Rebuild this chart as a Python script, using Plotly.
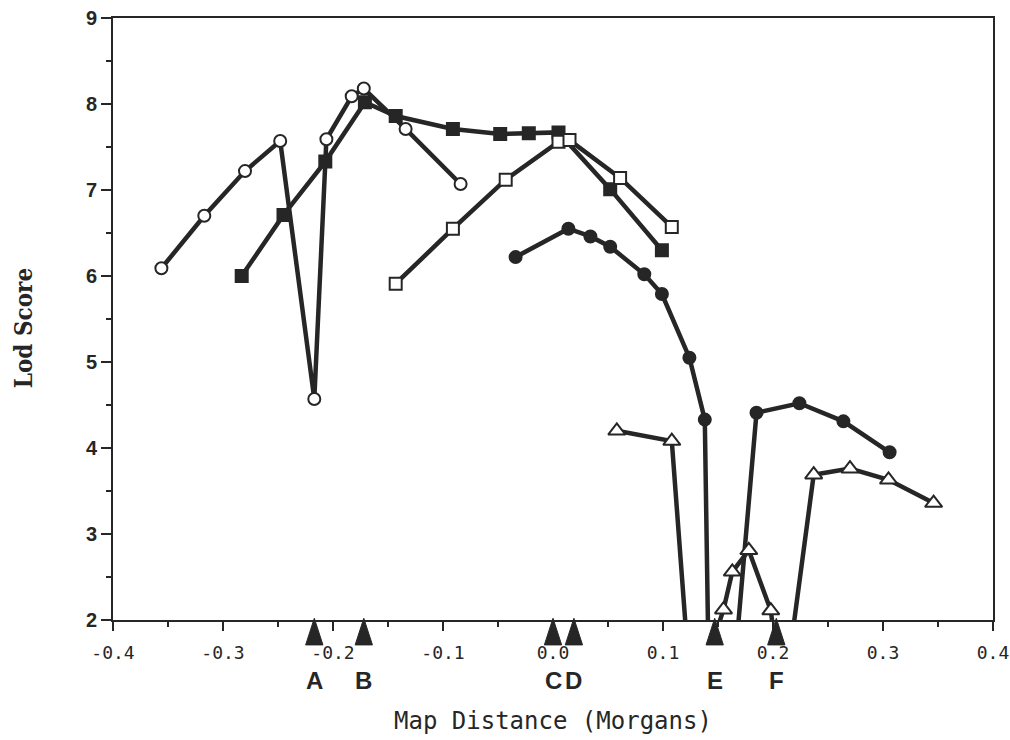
import plotly.graph_objects as go

# Open circles
oc_x = [-0.356, -0.317, -0.280, -0.248, -0.217, -0.206, -0.183, -0.172, -0.134, -0.084]
oc_y = [6.09, 6.70, 7.22, 7.57, 4.57, 7.59, 8.09, 8.18, 7.71, 7.07]

# Filled squares
fs_x = [-0.283, -0.245, -0.207, -0.171, -0.143, -0.091, -0.048, -0.022, 0.005, 0.052, 0.099]
fs_y = [6.00, 6.71, 7.33, 8.02, 7.86, 7.71, 7.65, 7.66, 7.67, 7.01, 6.30]

# Open squares
os_x = [-0.143, -0.091, -0.043, 0.005, 0.015, 0.061, 0.108]
os_y = [5.91, 6.55, 7.12, 7.56, 7.58, 7.14, 6.57]

# Filled circles (values below 2 fall outside the plotted range)
fc_x = [-0.034, 0.014, 0.034, 0.052, 0.083, 0.099, 0.124, 0.138, 0.142, 0.162, 0.185, 0.224, 0.264, 0.306]
fc_y = [6.22, 6.55, 6.46, 6.34, 6.02, 5.79, 5.05, 4.33, 1.0, 1.0, 4.41, 4.52, 4.31, 3.95]

# Open triangles (values below 2 fall outside the plotted range)
ot_x = [0.058, 0.108, 0.126, 0.155, 0.163, 0.178, 0.198, 0.209, 0.237, 0.270, 0.305, 0.346]
ot_y = [4.20, 4.08, 1.0, 2.12, 2.56, 2.81, 2.11, 1.0, 3.69, 3.76, 3.63, 3.36]

# Marker positions on the map
loc_labels = ["A", "B", "C", "D", "E", "F"]
loc_x = [-0.217, -0.172, 0.0, 0.019, 0.147, 0.203]

x_ticks = [-0.4, -0.3, -0.2, -0.1, 0.0, 0.1, 0.2, 0.3, 0.4]
x_tick_text = ["-0.4", "-0.3", "-0.2", "-0.1", "0.0", "0.1", "0.2", "0.3", "0.4"]
y_ticks = [2, 3, 4, 5, 6, 7, 8, 9]

INK = "#262626"
LW = 4.5
MONO = "DejaVu Sans Mono, Liberation Mono, monospace"

fig = go.Figure()

def add(xs, ys, symbol, size, fill):
    fig.add_trace(go.Scatter(
        x=xs, y=ys, mode="lines+markers",
        line=dict(color=INK, width=LW),
        marker=dict(symbol=symbol, size=size, color=fill,
                    line=dict(color=INK, width=2)),
        showlegend=False, cliponaxis=True, hoverinfo="skip",
    ))

add(oc_x, oc_y, "circle", 12, "white")
add(fs_x, fs_y, "square", 12, INK)
add(os_x, os_y, "square", 12, "white")
add(fc_x, fc_y, "circle", 12, INK)
add(ot_x, ot_y, "triangle-up", 15, "white")

# arrowheads on the x axis
fig.add_trace(go.Scatter(
    x=loc_x, y=[2.02] * len(loc_x), mode="markers",
    marker=dict(symbol="arrow", size=28, color=INK, angle=0,
                line=dict(color=INK, width=1)),
    showlegend=False, cliponaxis=False, hoverinfo="skip",
))

annotations = []
for lab, xv in zip(loc_labels, loc_x):
    annotations.append(dict(
        x=xv, y=-0.1, xref="x", yref="paper", text="<b>" + lab + "</b>", showarrow=False,
        font=dict(family="Liberation Sans, Arial", size=24, color=INK),
        xanchor="center", yanchor="middle",
    ))
annotations.append(dict(
    x=0.5, y=-0.168, xref="paper", yref="paper", text="Map Distance (Morgans)",
    showarrow=False, xanchor="center", yanchor="middle",
    font=dict(family=MONO, size=24, color=INK),
))
annotations.append(dict(
    x=-0.1015, y=0.484, xref="paper", yref="paper", text="<b>Lod Score</b>",
    showarrow=False, textangle=-90, xanchor="center", yanchor="middle",
    font=dict(family="DejaVu Serif Condensed, Liberation Serif", size=24, color=INK),
))

fig.update_layout(
    width=1010, height=740,
    margin=dict(l=113, r=17, t=18, b=120),
    paper_bgcolor="white", plot_bgcolor="white",
    annotations=annotations,
    xaxis=dict(
        range=[-0.4, 0.4], tickvals=x_ticks, ticktext=x_tick_text,
        showgrid=False, zeroline=False, showline=True, linecolor=INK, linewidth=2,
        mirror=True, ticks="outside", ticklen=9, tickwidth=2, tickcolor=INK,
        minor=dict(dtick=0.05, ticks="outside", ticklen=5, tickwidth=2, tickcolor=INK),
        tickfont=dict(family=MONO, size=18, color=INK),
        ticklabelstandoff=6, ticklabeloverflow="allow",
        automargin=False,
    ),
    yaxis=dict(
        range=[2, 9], tickvals=y_ticks,
        showgrid=False, zeroline=False, showline=True, linecolor=INK, linewidth=2,
        mirror=True, ticks="outside", ticklen=10, tickwidth=2, tickcolor=INK,
        minor=dict(dtick=0.5, ticks="outside", ticklen=5, tickwidth=2, tickcolor=INK),
        tickfont=dict(family="Liberation Sans, Arial", size=20, color=INK, weight="bold"),
        ticklabeloverflow="allow",
        automargin=False,
    ),
)

fig.write_html(
    "out.html",
    config={"displayModeBar": False, "staticPlot": True},
    post_script="document.body.style.margin='0';document.body.style.overflow='hidden';",
)
